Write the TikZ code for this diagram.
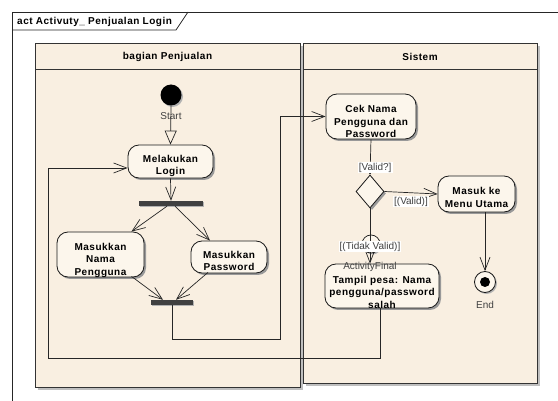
\documentclass[tikz,border=0pt]{standalone}
\usepackage{fontspec}
\setmainfont{Liberation Sans}
\newfontfamily\nodefont[LetterSpace=5]{Liberation Sans}
\usetikzlibrary{arrows.meta,shapes.geometric,shadows,calc}
\definecolor{lanefill}{HTML}{F9EFE1}
\definecolor{nodefill}{HTML}{FCF6EC}
\definecolor{edgecol}{HTML}{262626}
\definecolor{labcol}{HTML}{404040}
\tikzset{
  lanebox/.style={draw=black!80, line width=0.9pt, fill=lanefill,
    drop shadow={shadow xshift=3pt, shadow yshift=-3pt, fill=black!25, opacity=1}},
  actshape/.style={draw=black!90, line width=0.8pt, fill=nodefill, rectangle,
    rounded corners=11pt, inner sep=0pt,
    drop shadow={shadow xshift=2pt, shadow yshift=-2pt, fill=black!40, opacity=1}},
  acttext/.style={align=center, inner sep=0pt,
    font=\nodefont\bfseries\fontsize{10}{12.5}\selectfont},
  barnode/.style={rectangle, fill=black!75, draw=none, inner sep=0pt,
    drop shadow={shadow xshift=1pt, shadow yshift=-1pt, fill=black!30, opacity=1}},
  lab/.style={font=\fontsize{10}{12}\selectfont, text=labcol, inner sep=1pt},
  guard/.style={font=\fontsize{10}{12}\selectfont, text=labcol, fill=white, inner sep=1pt},
  flow/.style={draw=edgecol, line width=0.7pt, -{Straight Barb[length=13pt,width=10pt]}},
  flowsmall/.style={draw=edgecol, line width=0.7pt, -{Straight Barb[length=3pt,width=4pt]}},
  initflow/.style={draw=edgecol, line width=0.7pt, -{Triangle[open,length=14pt,width=12pt]}},
}
\newcommand\actnode[6]{%
  \node[actshape, minimum width=#3, minimum height=#4] (#1) at (#2) {};
  \node[acttext] (#1-t) at ($(#1)+(0,#5)$) {#6};}
\begin{document}
\begin{tikzpicture}[x=1pt,y=-1pt]
\useasboundingbox (0,0) rectangle (558,401);
\fill[white] (0,0) rectangle (558,401);
% frame
\draw[black!85, line width=0.8pt] (558,12) -- (12,12) -- (12,401);
\draw[black!85, line width=0.8pt] (12,30) -- (176,30) -- (188,12);
\node[anchor=west, font=\nodefont\bfseries\fontsize{10}{11}\selectfont, inner sep=0pt] (title) at (17,22) {act Activuty\_ Penjualan Login};
% lanes
\path[lanebox] (35,43) rectangle (300,387);
\draw[black!80, line width=0.9pt] (35,69) -- (300,69);
\path[lanebox] (303,43) rectangle (537,383);
\draw[black!80, line width=0.9pt] (303,69) -- (537,69);
\node[font=\nodefont\bfseries\fontsize{10}{12}\selectfont] (lane1) at (167.5,56.5) {bagian Penjualan};
\node[font=\nodefont\bfseries\fontsize{10}{12}\selectfont] (lane2) at (420,56.5) {Sistem};
% nodes
\node[circle, fill=black, minimum size=21pt, inner sep=0pt,
  drop shadow={shadow xshift=1.5pt, shadow yshift=-1.5pt, fill=black!30, opacity=1}] (start) at (171,95) {};
\node[lab] (startlab) at (171,116) {Start};
\actnode{login}{170.5,161.5}{85pt}{33pt}{4.5}{Melakukan\\Login}
\node[barnode, minimum width=64pt, minimum height=5pt] (fork) at (171,203.5) {};
\actnode{nama}{100.5,254.5}{87pt}{45pt}{5.5}{Masukkan\\Nama\\Pengguna}
\actnode{pass}{229,257}{76pt}{32pt}{4}{Masukkan\\Password}
\node[barnode, minimum width=42pt, minimum height=5pt] (join) at (172,302.5) {};
\actnode{cek}{371,116.5}{90pt}{45pt}{5}{Cek Nama\\Pengguna dan\\Password}
\node[diamond, draw=black!90, line width=0.8pt, fill=nodefill, minimum width=28pt, minimum height=33pt, inner sep=0pt,
  drop shadow={shadow xshift=2pt, shadow yshift=-2pt, fill=black!40, opacity=1}] (dec) at (370,191.5) {};
\actnode{menu}{476.5,194}{77pt}{36pt}{3.5}{Masuk ke\\Menu Utama}
\node[circle, draw=black!90, line width=0.8pt, fill=nodefill, minimum size=21pt, inner sep=0pt,
  drop shadow={shadow xshift=1.5pt, shadow yshift=-1.5pt, fill=black!30, opacity=1}] (endn) at (485,282) {};
\fill[black] (endn.center) circle (5pt);
\node[lab] (endlab) at (485,305) {End};
\node[circle, draw=black!90, line width=0.7pt, fill=nodefill, minimum size=18pt, inner sep=0pt,
  drop shadow={shadow xshift=1.5pt, shadow yshift=-1.5pt, fill=black!30, opacity=1}] (af) at (371,244) {};
\actnode{tampil}{382,286}{114pt}{44pt}{6}{Tampil pesa: Nama\\pengguna/password\\salah}
% connectors
\coordinate (c1) at (280,339);
\coordinate (c2) at (48,358);
\draw[initflow] (start.south) -- (login.north);
\draw[flow] (login.south) -- (fork.north);
\draw[flow] ([xshift=-4pt]fork.south) -- ([xshift=-13pt]nama.north east);
\draw[flow] ([xshift=4pt]fork.south) -- ([xshift=-19pt]pass.north);
\draw[flow] ([xshift=31pt,yshift=1pt]nama.south) -- ([xshift=-9pt]join.north);
\draw[flow] ([xshift=-21pt,yshift=1pt]pass.south) -- ([xshift=4pt]join.north);
\draw[flow] (join.south) |- (c1) |- (cek.west);
\draw[flowsmall] (cek.south) -- (dec.north) node[guard, pos=0.8, xshift=5pt] (g1) {[Valid?]};
\draw[flow] (dec.east) -- (menu.west) node[guard, pos=0.5, below=3pt] (g2) {[(Valid)]};
\draw[flow] (dec.south) -- ([xshift=-12pt]tampil.north);
\node[guard] (g3) at (370,246.5) {[(Tidak Valid)]};
\node[lab] (aflab) at (370,266.5) {ActivityFinal};
\draw[flow] ([xshift=8.5pt]menu.south) -- (endn.north);
\draw[flow] ([xshift=-2pt]tampil.south) |- (c2) |- ([yshift=-6.5pt]login.west);
\end{tikzpicture}
\end{document}
